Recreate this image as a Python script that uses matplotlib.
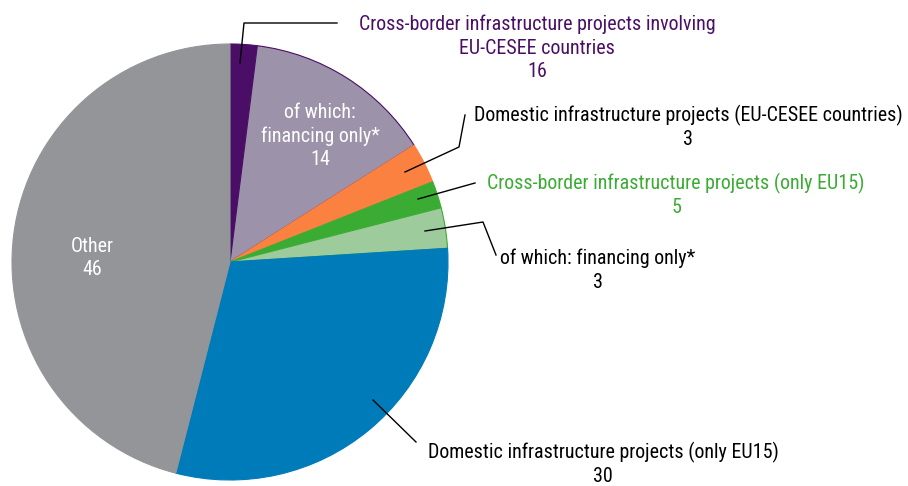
import matplotlib
matplotlib.use("Agg")
import matplotlib.pyplot as plt

plt.rcParams['font.family'] = ['Roboto Condensed', 'DejaVu Sans']

# Slices, clockwise from 12 o'clock
slice_names = ['CESEE cross-border (other)', 'CESEE cross-border financing only',
               'Domestic EU-CESEE', 'EU15 cross-border (other)',
               'EU15 cross-border financing only', 'Domestic EU15', 'Other']
slice_values = [2, 14, 3, 2, 3, 30, 46]
slice_colors = ['#4A0E66', '#9C92A9', '#FB8140', '#3BAC33', '#9DCB9B', '#007BBA', '#939598']
edge_colors = ['#4A0E66', '#4A0E66', '#FB8140', '#3BAC33', '#3BAC33', '#007BBA', '#939598']

W, H = 908, 486
fig = plt.figure(figsize=(W / 100, H / 100), dpi=100)
ax = fig.add_axes([0, 0, 1, 1])

cx, cy, r = 230, H - 262, 218
wedges, _ = ax.pie(slice_values, colors=slice_colors, startangle=90,
                   counterclock=False, center=(cx, cy), radius=r,
                   wedgeprops=dict(linewidth=0.8))
for w, ec in zip(wedges, edge_colors):
    w.set_edgecolor(ec)

ax.set_xlim(0, W)
ax.set_ylim(0, H)
ax.set_aspect('equal')
ax.axis('off')

def y(p):
    return H - p

fs = 14.4
ls = 1.31
# leader lines (pixel coords from the top-left)
leaders = [
    [(240, 63), (244, 23), (337, 23)],
    [(405, 172), (459, 147), (465, 115)],
    [(418, 199), (475, 183)],
    [(425, 231), (483, 222), (496, 255)],
    [(373, 400), (416, 442)],
]
for pts in leaders:
    ax.plot([p[0] for p in pts], [y(p[1]) for p in pts], color='black', lw=1.0)

ax.text(537, y(48), 'Cross-border infrastructure projects involving\nEU-CESEE countries\n16',
        ha='center', va='center', color='#4A0E66', fontsize=fs, linespacing=ls)
ax.text(688, y(127), 'Domestic infrastructure projects (EU-CESEE countries)\n3',
        ha='center', va='center', color='black', fontsize=fs, linespacing=ls)
ax.text(676, y(195), 'Cross-border infrastructure projects (only EU15)\n5',
        ha='center', va='center', color='#3BAC33', fontsize=fs, linespacing=ls)
ax.text(598, y(270), 'of which: financing only*\n3',
        ha='center', va='center', color='black', fontsize=fs, linespacing=ls)
ax.text(603, y(464), 'Domestic infrastructure projects (only EU15)\n30',
        ha='center', va='center', color='black', fontsize=fs, linespacing=ls)

ax.text(320, y(136), 'of which:\nfinancing only*\n14',
        ha='center', va='center', color='white', fontsize=fs, linespacing=ls)
ax.text(92, y(258), 'Other\n46',
        ha='center', va='center', color='white', fontsize=fs, linespacing=ls)

fig.savefig('out.png', dpi=100)
